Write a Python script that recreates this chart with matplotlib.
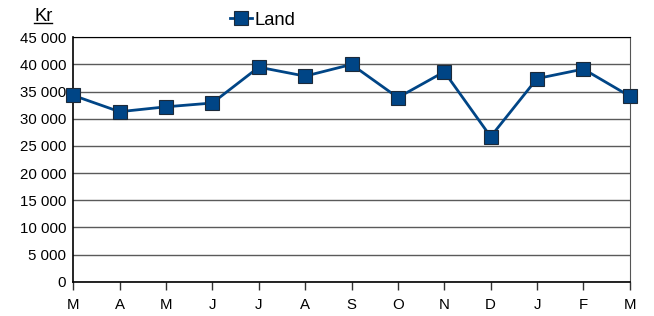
import matplotlib.pyplot as plt
from matplotlib.lines import Line2D
from matplotlib.ticker import FuncFormatter

plt.rcParams['font.family'] = ['Liberation Sans', 'DejaVu Sans']

months = ['M', 'A', 'M', 'J', 'J', 'A', 'S', 'O', 'N', 'D', 'J', 'F', 'M']
land = [34300, 31300, 32200, 32900, 39500, 37850, 40000, 33900, 38650, 26700, 37400, 39150, 34150]

fig = plt.figure(figsize=(6.54, 3.16), dpi=100)
ax = fig.add_axes([0.112, 0.1085, 0.851, 0.7735])

x = list(range(len(months)))
ax.plot(x, land, color='#004586', linewidth=2.0, marker='s', markersize=10.5,
        markerfacecolor='#004586', markeredgecolor='#1c2a3a', markeredgewidth=0.8,
        label='Land', zorder=3, clip_on=False)

ax.set_xlim(0, len(months) - 1)
ax.set_ylim(0, 45000)
ax.set_yticks(range(0, 45001, 5000))
ax.yaxis.set_major_formatter(FuncFormatter(lambda v, p: f'{int(v):,}'.replace(',', ' ')))
ax.set_xticks(x)
ax.set_xticklabels(months)

ax.grid(axis='y', color='#5a5a5a', linewidth=1.0)
ax.set_axisbelow(True)
ax.tick_params(axis='y', length=0, labelsize=10.8, pad=5)
ax.tick_params(axis='x', direction='out', length=6, width=1, color='#333333', labelsize=10.8, pad=6)

for side in ['left', 'bottom', 'top']:
    ax.spines[side].set_color('black')
ax.spines['right'].set_color('#555555')
ax.spines['left'].set_linewidth(1.2)
ax.spines['bottom'].set_linewidth(1.2)

# y axis title, underlined
fig.text(0.052, 0.948, 'Kr', fontsize=13.2, ha='left', va='center')
fig.add_artist(Line2D([0.052, 0.079], [0.928, 0.928], color='black', linewidth=1))

leg = ax.legend(loc='center left', frameon=False, fontsize=13.2, handlelength=1.2,
                handletextpad=0.15, borderaxespad=0, borderpad=0)
leg.set_bbox_to_anchor((0.352, 0.936), transform=fig.transFigure)

fig.savefig('out.png', dpi=100)
